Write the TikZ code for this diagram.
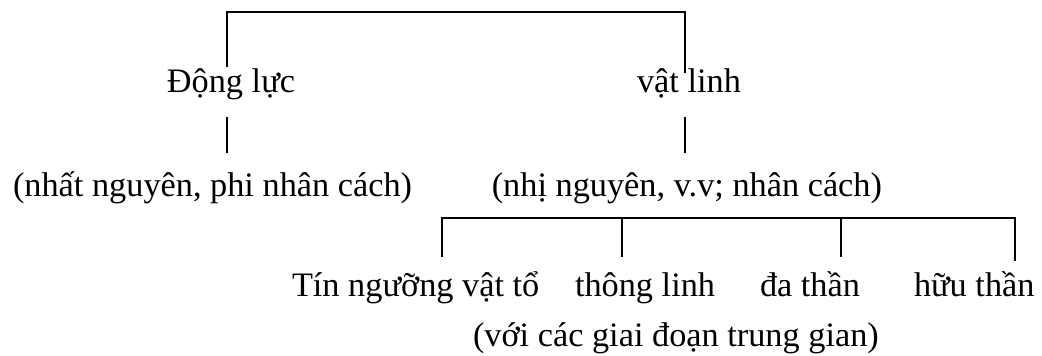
\documentclass[tikz,border=0pt]{standalone}
\usepackage{fontspec}
\setmainfont{Liberation Serif}
\begin{document}
\begin{tikzpicture}[x=1pt,y=-1pt,
  lbl/.style={inner sep=0pt, outer sep=0pt, font=\fontsize{34.3}{40}\selectfont},
  ln/.style={line width=1.7pt, line cap=rect}]
\useasboundingbox (0,0) rectangle (1042,356);
% top level
\coordinate (tl) at (227,12);
\coordinate (tr) at (685,12);
\node[lbl, anchor=base] (dl) at (231,92) {Động lực};
\node[lbl, anchor=base] (vl) at (689,92) {vật linh};
\coordinate (dlb) at (227,66);
\coordinate (vlb) at (685,72);
\draw[ln] (dlb) -- (tl) -- (tr) -- (vlb);
% second level
\coordinate (d1) at (227,118);
\coordinate (d2) at (227,152);
\coordinate (v1) at (685,118);
\coordinate (v2) at (685,152);
\draw[ln] (d1) -- (d2);
\draw[ln] (v1) -- (v2);
\node[lbl, anchor=base west] (nn) at (13,196) {(nhất nguyên, phi nhân cách)};
\node[lbl, anchor=base east] (nh) at (882,196) {(nhị nguyên, v.v; nhân cách)};
% bracket
\coordinate (b1) at (442,218);
\coordinate (b2) at (622,218);
\coordinate (b3) at (841,218);
\coordinate (b4) at (1015,218);
\coordinate (e1) at (442,256);
\coordinate (e2) at (622,256);
\coordinate (e3) at (841,256);
\coordinate (e4) at (1015,260);
\draw[ln] (e1) -- (b1) -- (b4) -- (e4);
\draw[ln] (b2) -- (e2);
\draw[ln] (b3) -- (e3);
% bottom labels
\node[lbl, anchor=base west] (t1) at (292,296) {Tín ngưỡng vật tổ};
\node[lbl, anchor=base west] (t2) at (575,296) {thông linh};
\node[lbl, anchor=base west] (t3) at (760,296) {đa thần};
\node[lbl, anchor=base west] (t4) at (914,296) {hữu thần};
\node[lbl, anchor=base west] (gd) at (473,346) {(với các giai đoạn trung gian)};
\end{tikzpicture}
\end{document}
